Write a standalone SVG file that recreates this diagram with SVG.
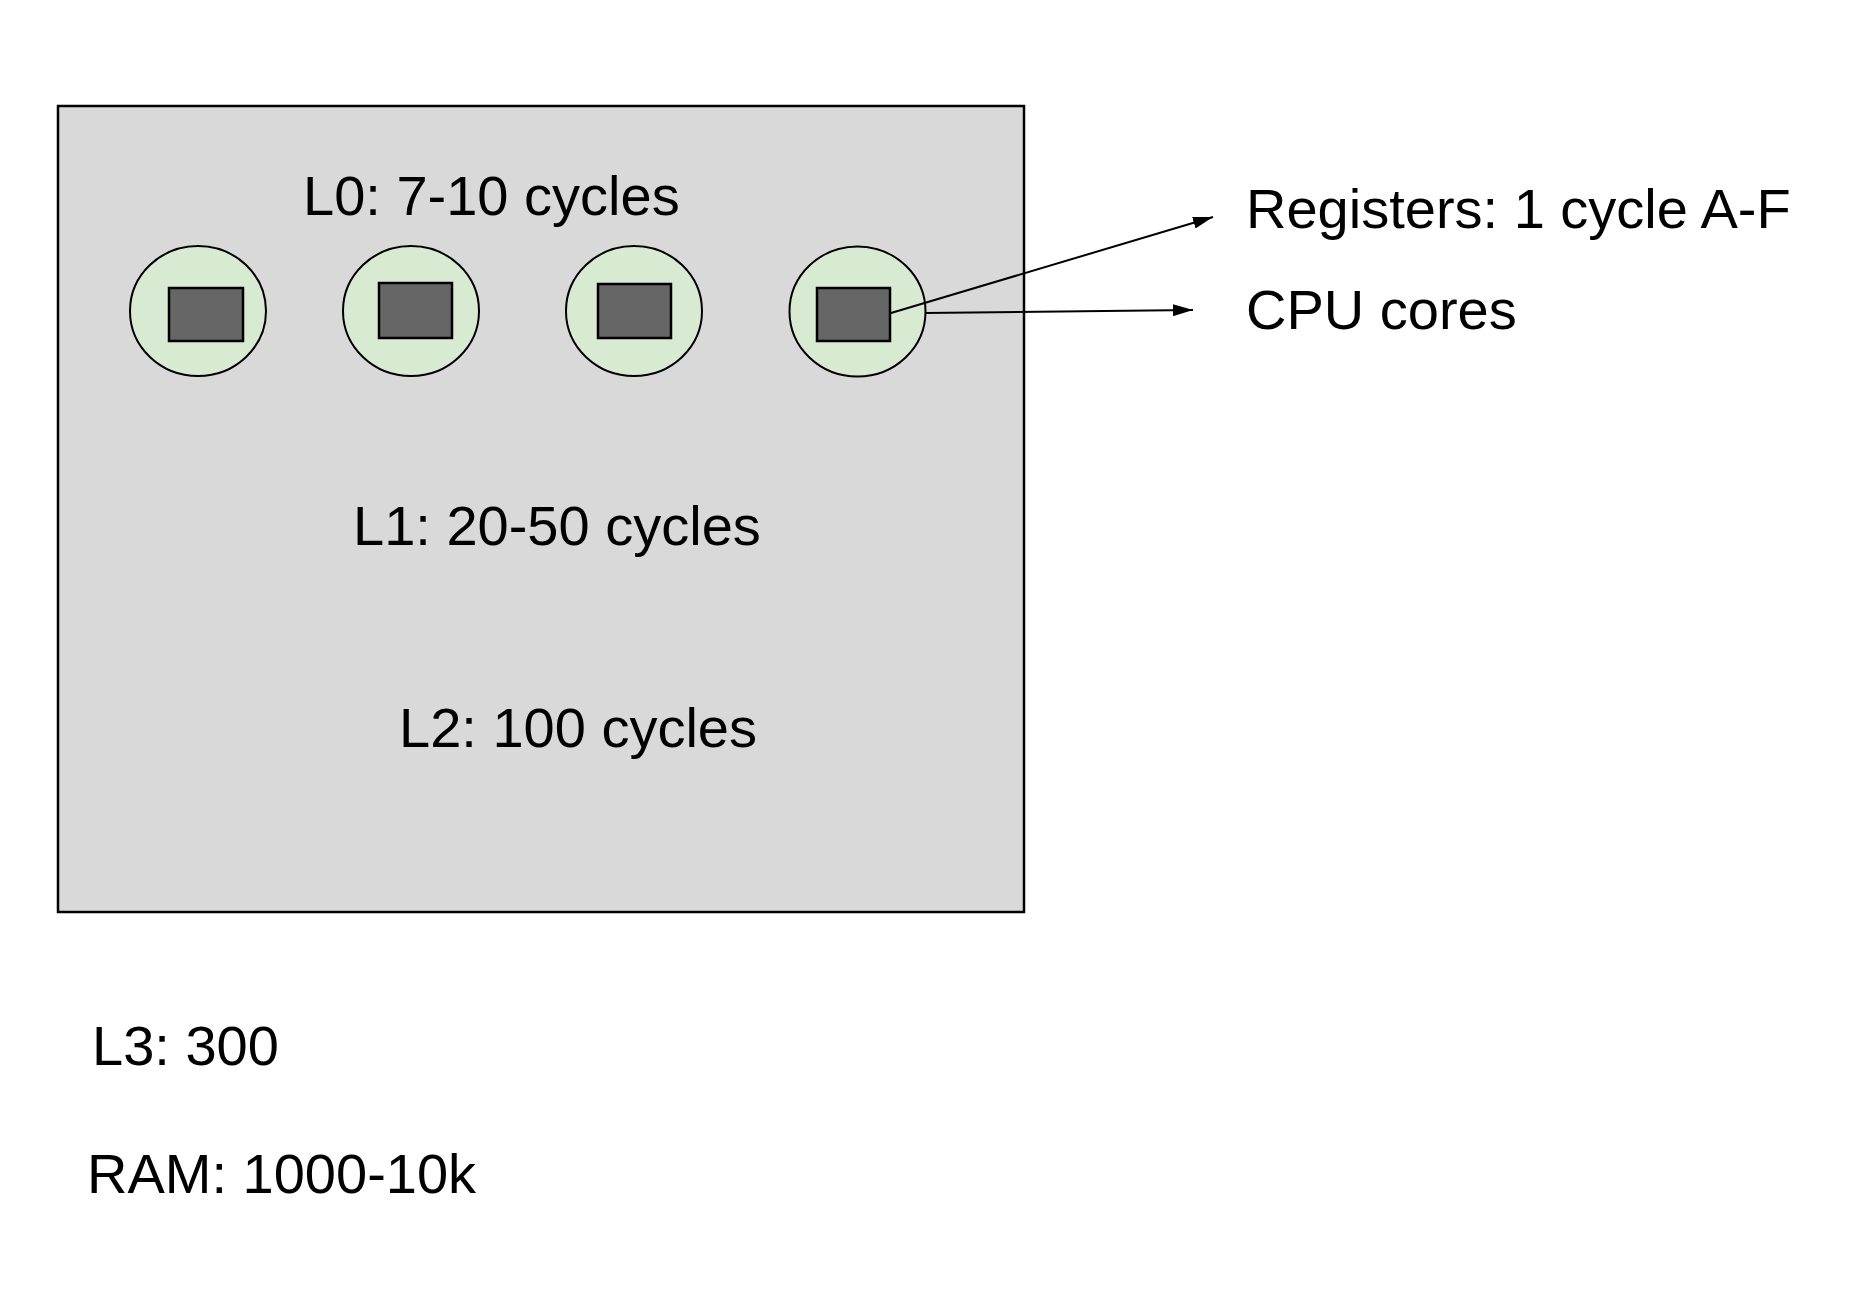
<svg xmlns="http://www.w3.org/2000/svg" width="1856" height="1298" viewBox="0 0 1856 1298">
<style>
  .lbl { font-family: "Liberation Sans", Arial, sans-serif; font-size: 56px; fill: #000; }
  .core { fill: #d9ead3; stroke: #000; stroke-width: 2; }
  .reg { fill: #666666; stroke: #000; stroke-width: 2.5; }
  .conn { stroke: #000; stroke-width: 2; fill: none; }
</style>
<defs>
  <marker id="arrow" viewBox="0 0 20 12" refX="20" refY="6" markerWidth="20" markerHeight="12" markerUnits="userSpaceOnUse" orient="auto">
    <path d="M0,0 L20,6 L0,12 z" fill="#000"/>
  </marker>
</defs>
<rect width="1856" height="1298" fill="#ffffff"/>
<g id="chip">
  <rect x="58" y="106" width="966" height="806" fill="#d9d9d9" stroke="#000" stroke-width="2.5"/>
  <text class="lbl" x="303" y="215">L0: 7-10 cycles</text>
  <text class="lbl" x="353" y="545">L1: 20-50 cycles</text>
  <text class="lbl" x="399" y="747">L2: 100 cycles</text>
</g>
<g id="core1">
  <ellipse class="core" cx="198" cy="311" rx="68" ry="65"/>
  <rect class="reg" x="169" y="288" width="74" height="53"/>
</g>
<g id="core2">
  <ellipse class="core" cx="411" cy="311" rx="68" ry="65"/>
  <rect class="reg" x="379" y="283" width="73" height="55"/>
</g>
<g id="core3">
  <ellipse class="core" cx="634" cy="311" rx="68" ry="65"/>
  <rect class="reg" x="598" y="284" width="73" height="54"/>
</g>
<g id="core4">
  <ellipse class="core" cx="857.5" cy="311.5" rx="68" ry="65"/>
  <rect class="reg" x="817" y="288" width="73" height="53"/>
</g>
<g id="connectors">
  <line class="conn" x1="891" y1="313" x2="1213" y2="217" marker-end="url(#arrow)"/>
  <line class="conn" x1="925" y1="313" x2="1193" y2="310" marker-end="url(#arrow)"/>
</g>
<g id="registers-label">
  <text class="lbl" x="1246" y="228">Registers: 1 cycle A-F</text>
</g>
<g id="cpu-label">
  <text class="lbl" x="1246" y="329">CPU cores</text>
</g>
<g id="l3">
  <text class="lbl" x="92" y="1065">L3: 300</text>
</g>
<g id="ram">
  <text class="lbl" x="87" y="1193">RAM: 1000-10k</text>
</g>
</svg>
